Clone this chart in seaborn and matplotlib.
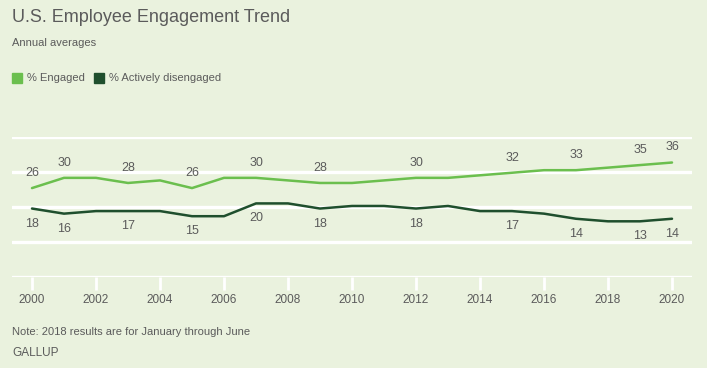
import matplotlib
matplotlib.use("Agg")
import matplotlib.pyplot as plt
import pandas as pd
import seaborn as sns

# datos
years = list(range(2000, 2021))
engaged = [26, 30, 30, 28, 29, 26, 30, 30, 29, 28, 28, 29, 30, 30, 31, 32, 33, 33, 34, 35, 36]
disengaged = [18, 16, 17, 17, 17, 15, 15, 20, 20, 18, 19, 19, 18, 19, 17, 17, 16, 14, 13, 13, 14]
label_years = [2000, 2001, 2003, 2005, 2007, 2009, 2012, 2015, 2017, 2019, 2020]
tick_years = list(range(2000, 2021, 2))
grid_levels = [-8.9, 4.8, 18.5, 32.3, 46.1]

BG = "#eaf2de"
LIGHT = "#6bbf4e"
DARK = "#1f4f2d"
TEXT = "#5b5b5b"

sns.set_theme(style="white")
plt.rcParams["font.family"] = ["Liberation Sans", "DejaVu Sans"]

df = pd.DataFrame({"year": years, "% Engaged": engaged, "% Actively disengaged": disengaged})
long = df.melt(id_vars="year", var_name="serie", value_name="pct")

fig = plt.figure(figsize=(7.07, 3.68), dpi=100, facecolor=BG)
ax = fig.add_axes([12 / 707, 1 - 277.3 / 368, 680 / 707, 140.6 / 368])
ax.set_facecolor(BG)

for y in grid_levels:
    ax.axhline(y, color="white", lw=2.4, zorder=0)

sns.lineplot(data=long, x="year", y="pct", hue="serie",
             palette={"% Engaged": LIGHT, "% Actively disengaged": DARK},
             lw=1.8, legend=False, ax=ax, zorder=3)

ax.set_xlim(2000 - 0.625, 2020 + 0.625)
ax.set_ylim(grid_levels[0], grid_levels[-1])
for s in ax.spines.values():
    s.set_visible(False)
ax.set_yticks([])
ax.set_xticks(tick_years)
ax.set_xticklabels([str(t) for t in tick_years], fontsize=8.5, color=TEXT)
ax.tick_params(axis="x", length=9, width=2, color="white", pad=3, bottom=True)
ax.set_xlabel("")
ax.set_ylabel("")

for yr in label_years:
    i = years.index(yr)
    ax.annotate(str(engaged[i]), (yr, engaged[i]), xytext=(0, 6.5), textcoords="offset points",
                ha="center", va="bottom", fontsize=9, color=TEXT)
    ax.annotate(str(disengaged[i]), (yr, disengaged[i]), xytext=(0, -6.5), textcoords="offset points",
                ha="center", va="top", fontsize=9, color=TEXT)

fig.text(12 / 707, 1 - 17 / 368, "U.S. Employee Engagement Trend", fontsize=13,
         color=TEXT, va="center", ha="left")
fig.text(12 / 707, 1 - 43 / 368, "Annual averages", fontsize=8, color=TEXT, va="center")

# leyenda manual
fig.patches.append(plt.Rectangle((12 / 707, 1 - 83 / 368), 10 / 707, 10 / 368,
                                 transform=fig.transFigure, color=LIGHT))
fig.text(27 / 707, 1 - 78 / 368, "% Engaged", fontsize=8, color=TEXT, va="center")
fig.patches.append(plt.Rectangle((94 / 707, 1 - 83 / 368), 10 / 707, 10 / 368,
                                 transform=fig.transFigure, color=DARK))
fig.text(109 / 707, 1 - 78 / 368, "% Actively disengaged", fontsize=8, color=TEXT, va="center")

fig.text(12 / 707, 1 - 332 / 368, "Note: 2018 results are for January through June",
         fontsize=8, color=TEXT, va="center")
fig.text(12 / 707, 1 - 353 / 368, "GALLUP", fontsize=8.5, color=TEXT, va="center")

fig.savefig("out.png", dpi=100, facecolor=BG)
